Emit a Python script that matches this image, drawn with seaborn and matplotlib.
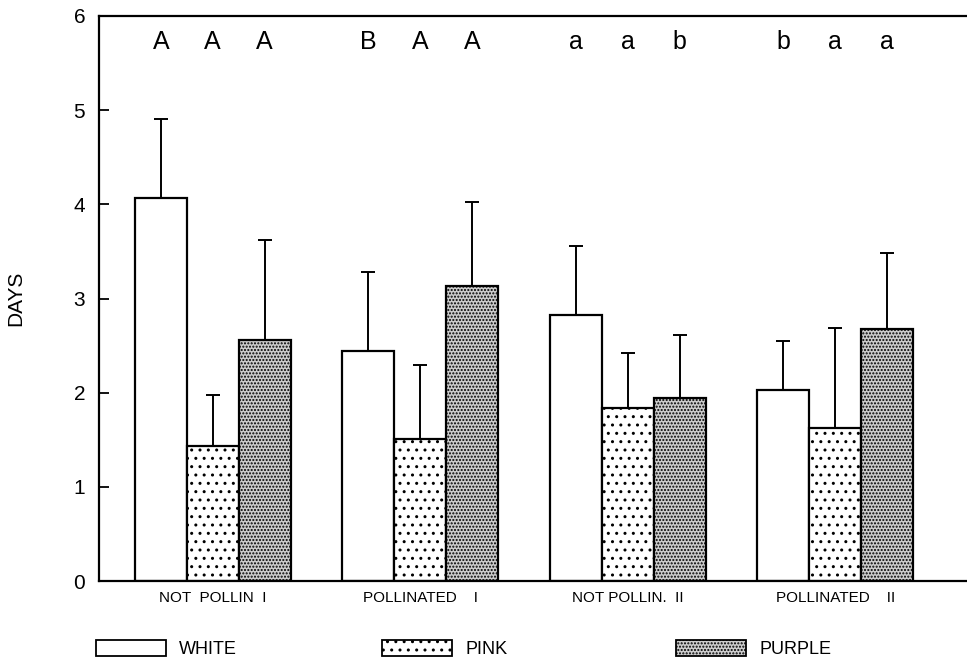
import matplotlib
matplotlib.use("Agg")
import matplotlib.pyplot as plt
import seaborn as sns
import pandas as pd
import numpy as np
from matplotlib.patches import Patch

# ---- data ----
conditions = ["NOT  POLLIN  I", "POLLINATED    I", "NOT POLLIN.  II", "POLLINATED    II"]
flower_colors = ["WHITE", "PINK", "PURPLE"]

white_mean = [4.07, 2.44, 2.83, 2.03]
pink_mean = [1.43, 1.51, 1.84, 1.63]
purple_mean = [2.56, 3.13, 1.94, 2.68]

white_sd = [0.84, 0.84, 0.73, 0.52]
pink_sd = [0.54, 0.78, 0.58, 1.06]
purple_sd = [1.06, 0.90, 0.67, 0.80]

letters_white = ["A", "B", "a", "b"]
letters_pink = ["A", "A", "a", "a"]
letters_purple = ["A", "A", "b", "a"]

y_ticks = [0, 1, 2, 3, 4, 5, 6]

means = {"WHITE": white_mean, "PINK": pink_mean, "PURPLE": purple_mean}
sds = {"WHITE": white_sd, "PINK": pink_sd, "PURPLE": purple_sd}
letters = {"WHITE": letters_white, "PINK": letters_pink, "PURPLE": letters_purple}

rows = []
for c in flower_colors:
    for cond, m, s in zip(conditions, means[c], sds[c]):
        rows.append({"condition": cond, "color": c, "days": m, "sd": s})
df = pd.DataFrame(rows)

# ---- styling ----
sns.set_theme(style="white")
plt.rcParams["font.family"] = ["Liberation Sans", "DejaVu Sans"]
for k in ["text.color", "axes.labelcolor", "xtick.color", "ytick.color", "axes.edgecolor"]:
    plt.rcParams[k] = "black"
plt.rcParams["hatch.linewidth"] = 1.0

fills = {
    "WHITE": ("white", ""),
    "PINK": ("white", ".."),
    "PURPLE": ("#cccccc", "....."),
}

fig = plt.figure(figsize=(9.67, 6.66), dpi=100)
ax = fig.add_axes([0.1024, 0.1276, 0.8976, 0.8484])

sns.barplot(
    data=df, x="condition", y="days", hue="color",
    order=conditions, hue_order=flower_colors,
    palette={c: "white" for c in flower_colors}, saturation=1,
    edgecolor="black", linewidth=1.6, width=0.75, gap=0,
    errorbar=None, legend=False, ax=ax,
)

for cont, c in zip(ax.containers, flower_colors):
    face, hatch = fills[c]
    xs, ys = [], []
    for bar in cont:
        bar.set_facecolor(face)
        bar.set_hatch(hatch)
        bar.set_edgecolor("black")
        xs.append(bar.get_x() + bar.get_width() / 2)
        ys.append(bar.get_height())
    ax.errorbar(xs, ys, yerr=[np.zeros(len(xs)), sds[c]], fmt="none",
                ecolor="black", elinewidth=1.4, capsize=5, capthick=1.4, zorder=3)
    for x, l in zip(xs, letters[c]):
        ax.text(x, 5.72, l, ha="center", va="center", fontsize=18)

ax.set_ylim(0, 6)
ax.set_xlim(-0.548, 3.635)
ax.set_yticks(y_ticks)
ax.set_yticklabels([str(t) for t in y_ticks])
ax.tick_params(axis="y", direction="in", length=7, width=1.3, pad=10, labelsize=15, left=True)
ax.tick_params(axis="x", length=0, pad=7, labelsize=11)
ax.set_xlabel("")
ax.set_ylabel("DAYS", fontsize=15)
ax.yaxis.set_label_coords(-0.085, 0.5)

ax.spines["right"].set_visible(False)
for s in ["left", "top", "bottom"]:
    ax.spines[s].set_linewidth(1.6)
    ax.spines[s].set_color("black")

# ---- legend entries below the axes ----
legend_x = {"WHITE": 96, "PINK": 382, "PURPLE": 676}
for c in flower_colors:
    face, hatch = fills[c]
    h = Patch(facecolor=face, edgecolor="black", hatch=hatch, linewidth=1.3)
    fig.legend(handles=[h], labels=[c], loc="center left",
               bbox_to_anchor=(legend_x[c] / 967, 1 - 649 / 666),
               frameon=False, fontsize=13, handlelength=3.9, handleheight=1.0,
               handletextpad=0.7, borderpad=0, borderaxespad=0)

fig.savefig("out.png", dpi=100)
